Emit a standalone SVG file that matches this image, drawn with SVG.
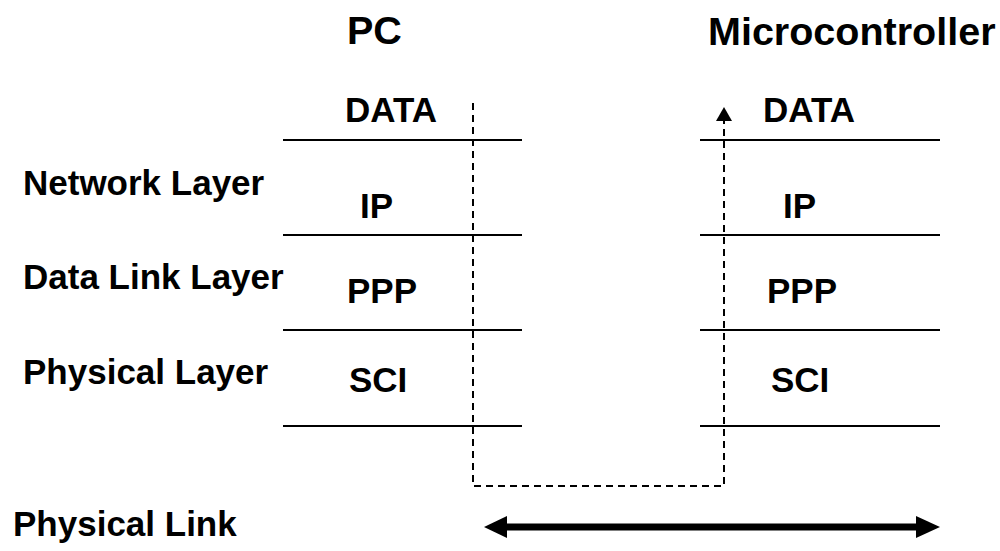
<svg xmlns="http://www.w3.org/2000/svg" width="1000" height="551" viewBox="0 0 1000 551">
<defs>
<style>
text{font-family:"Liberation Sans",Arial,sans-serif;font-weight:bold;fill:#000}
.t{font-size:39.5px}
.l{font-size:35px}
.sep{stroke:#000;stroke-width:2;fill:none}
.dash{stroke:#000;stroke-width:2;fill:none;stroke-dasharray:7 5}
</style>
</defs>
<rect width="1000" height="551" fill="#fff"/>
<g id="titles">
<text class="t" x="347" y="44">PC</text>
<text class="t" x="708" y="45">Microcontroller</text>
</g>
<g id="layer-labels">
<text class="l" x="23" y="195">Network Layer</text>
<text class="l" x="23" y="289">Data Link Layer</text>
<text class="l" x="23" y="384">Physical Layer</text>
<text class="l" x="13" y="536">Physical Link</text>
</g>
<g id="pc-stack">
<line class="sep" x1="283" y1="140" x2="522" y2="140"/>
<line class="sep" x1="283" y1="235" x2="522" y2="235"/>
<line class="sep" x1="283" y1="330" x2="522" y2="330"/>
<line class="sep" x1="283" y1="426" x2="522" y2="426"/>
<text class="l" x="345" y="122">DATA</text>
<text class="l" x="360" y="218">IP</text>
<text class="l" x="347" y="303">PPP</text>
<text class="l" x="349" y="392">SCI</text>
</g>
<g id="mcu-stack">
<line class="sep" x1="700" y1="140" x2="940" y2="140"/>
<line class="sep" x1="700" y1="235" x2="940" y2="235"/>
<line class="sep" x1="700" y1="330" x2="940" y2="330"/>
<line class="sep" x1="700" y1="426" x2="940" y2="426"/>
<text class="l" x="763" y="122">DATA</text>
<text class="l" x="783" y="218">IP</text>
<text class="l" x="767" y="303">PPP</text>
<text class="l" x="771" y="392">SCI</text>
</g>
<g id="connectors">
<polyline class="dash" points="473,103 473,486 724,486 724,120"/>
<polygon points="724,107 716,121 732,121" fill="#000"/>
<line x1="505" y1="527" x2="918" y2="527" stroke="#000" stroke-width="7"/>
<polygon points="484,527 507,516 507,538" fill="#000"/>
<polygon points="940,527 916,516 916,538" fill="#000"/>
</g>
</svg>
